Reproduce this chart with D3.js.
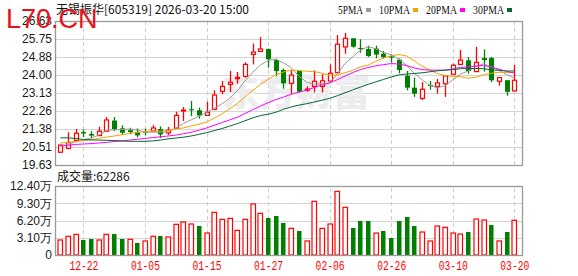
<!doctype html>
<html>
<head>
<meta charset="utf-8">
<title>无锡振华 日K</title>
<script src="https://cdn.jsdelivr.net/npm/d3@7"></script>
<style>
  body { margin: 0; background: #fff; }
  svg { display: block; font-family: "Liberation Sans", Arial, sans-serif; }
  .grid line { stroke: #d4d4d4; shape-rendering: crispEdges; }
  .vgrid line { stroke: #cfcfcf; stroke-dasharray: 4,3; shape-rendering: crispEdges; }
  .axis text { font-size: 12px; fill: #1a1a1a; }
</style>
</head>
<body>
<script>

var dates = ["12-17","12-18","12-19","12-22","12-23","12-24","12-25","12-26","12-29","12-30",
  "12-31","01-05","01-06","01-07","01-08","01-09","01-12","01-13","01-14","01-15",
  "01-16","01-19","01-20","01-21","01-22","01-23","01-26","01-27","01-28","01-29",
  "01-30","02-02","02-03","02-04","02-05","02-06","02-09","02-10","02-11","02-12",
  "02-13","02-24","02-25","02-26","02-27","03-02","03-03","03-04","03-05","03-06",
  "03-09","03-10","03-11","03-12","03-13","03-16","03-17","03-18","03-19","03-20"];

var open = [20.25,20.44,20.83,21.23,21.14,21.06,21.27,21.79,21.41,21.32,
  21.23,21.25,21.28,21.38,21.19,21.41,22.27,22.34,22.29,22.04,
  22.34,23.21,23.55,23.83,23.94,25.01,25.15,25.27,24.73,24.25,
  23.60,24.20,23.28,23.45,23.45,23.71,24.12,25.37,25.79,25.32,
  25.27,25.29,25.04,24.91,24.75,23.97,23.39,22.87,23.52,23.45,
  23.58,24.04,24.52,24.72,24.17,24.83,24.83,23.70,23.75,23.23];
var high = [20.62,21.22,21.38,21.35,21.27,21.48,21.96,21.96,21.56,21.44,
  21.41,21.40,21.57,21.51,21.48,22.22,22.45,22.74,22.42,22.71,
  23.26,23.71,24.20,24.15,24.62,25.53,25.85,25.29,24.80,24.31,
  24.25,24.25,23.45,24.23,24.04,24.52,25.95,26.05,25.79,25.74,
  25.43,25.43,25.17,25.01,24.81,24.20,23.87,23.66,23.71,23.81,
  23.97,24.56,25.22,24.88,25.37,25.25,24.88,23.88,23.75,24.49];
var low = [20.23,20.39,20.83,20.99,20.93,21.04,21.25,21.28,21.09,21.12,
  20.98,21.07,21.27,20.94,21.09,21.40,21.77,22.01,21.88,22.01,
  22.29,23.07,23.18,23.58,23.87,24.52,25.14,24.36,23.96,23.34,
  23.08,23.15,23.19,23.16,23.16,23.70,24.10,25.04,25.33,25.09,
  24.88,24.82,24.80,24.61,24.09,23.26,22.94,22.79,23.29,23.10,
  22.94,24.03,24.51,24.07,24.16,24.17,23.66,23.49,23.00,23.22];
var close = [20.60,20.72,21.17,21.16,21.06,21.27,21.82,21.38,21.20,21.23,
  21.07,21.23,21.43,21.12,21.32,22.04,22.30,22.31,22.04,22.19,
  23.03,23.45,23.65,23.89,24.52,25.12,25.27,24.77,24.20,23.60,
  24.00,23.19,23.32,23.70,23.72,24.09,25.50,25.79,25.38,25.29,
  24.93,25.00,24.88,24.85,24.25,23.39,23.10,23.31,23.47,23.62,
  23.96,24.48,24.73,24.20,24.62,24.73,23.75,23.88,23.19,23.75];

// 成交量，单位：万手
var volume = [2.70,3.36,3.71,2.70,2.88,2.70,3.71,3.77,2.88,2.82,
  2.16,2.52,3.36,3.42,3.24,5.51,5.93,5.57,5.21,3.95,
  7.67,6.41,6.59,4.43,6.41,9.17,7.49,6.65,7.01,5.75,
  4.79,4.31,2.52,9.65,4.79,5.57,11.44,8.57,4.85,6.11,
  6.11,3.95,4.31,3.06,6.11,6.83,5.21,4.13,2.52,5.21,
  4.97,3.95,3.77,4.13,6.47,6.29,5.39,2.52,4.13,6.2286];

var ma5 = [20.55,20.63,20.76,20.86,20.94,21.08,21.30,21.34,21.35,21.38,
  21.34,21.22,21.23,21.22,21.23,21.43,21.65,21.82,22.00,22.18,
  22.38,22.60,22.87,23.24,23.71,24.13,24.49,24.71,24.78,24.59,
  24.37,23.95,23.66,23.56,23.58,23.60,24.06,24.56,24.89,25.21,
  25.38,25.28,25.10,24.99,24.78,24.47,24.09,23.78,23.50,23.38,
  23.49,23.77,24.05,24.20,24.40,24.55,24.41,24.24,24.03,23.86];
var ma10 = [20.70,20.73,20.77,20.82,20.86,20.92,20.99,21.04,21.10,21.16,
  21.21,21.26,21.29,21.28,21.31,21.38,21.43,21.53,21.61,21.71,
  21.90,22.12,22.35,22.62,22.94,23.25,23.55,23.79,24.01,24.15,
  24.25,24.22,24.19,24.17,24.09,23.98,24.01,24.11,24.23,24.40,
  24.49,24.67,24.83,24.94,25.00,24.93,24.69,24.44,24.25,24.08,
  23.98,23.93,23.92,23.85,23.89,24.02,24.09,24.14,24.12,24.13];
var ma20 = [20.55,20.59,20.63,20.65,20.67,20.70,20.73,20.77,20.80,20.84,
  20.88,20.92,20.96,21.00,21.04,21.08,21.15,21.22,21.32,21.43,
  21.56,21.69,21.82,21.95,22.13,22.32,22.49,22.66,22.81,22.93,
  23.07,23.17,23.27,23.40,23.52,23.62,23.78,23.95,24.12,24.27,
  24.37,24.45,24.51,24.56,24.54,24.46,24.35,24.27,24.24,24.24,
  24.24,24.30,24.37,24.40,24.44,24.47,24.39,24.29,24.18,24.10];
var ma30 = [20.95,20.95,20.92,20.87,20.85,20.84,20.83,20.82,20.80,20.78,
  20.78,20.78,20.80,20.84,20.90,20.94,20.98,21.04,21.12,21.20,
  21.30,21.40,21.52,21.64,21.78,21.92,22.03,22.10,22.19,22.34,
  22.45,22.54,22.61,22.69,22.78,22.87,23.00,23.14,23.28,23.42,
  23.55,23.67,23.79,23.91,24.01,24.05,24.08,24.11,24.16,24.21,
  24.24,24.27,24.31,24.32,24.32,24.31,24.26,24.23,24.20,24.20];

var priceTicks = ["26.63","25.75","24.88","24.00","23.13","22.26","21.38","20.51","19.63"];
var volTickValues = [12.4, 9.3, 6.2, 3.1, 0];
var volTicks = ["12.40万","9.30万","6.20万","3.10万","0"];
var dateTicks = ["12-22","01-05","01-15","01-27","02-06","02-26","03-10","03-20"];
var maNames = ["5PMA","10PMA","20PMA","30PMA"];
var maColors = ["#9a9a9a","#f5a300","#ff00ff","#006a2e"];

var W = 578, H = 276;
var L = 55, R = 522, T = 21, B = 165, VT = 186, VB = 255;
var up = "#ff0000", down = "#007f00";

var svg = d3.select('body').append('svg').attr('width', W).attr('height', H);

var x = d3.scalePoint().domain(dates).range([60.3, 514.3]);
var y = d3.scaleLinear().domain([19.63, 26.63]).range([B, T]);
var yv = d3.scaleLinear().domain([0, 12.4]).range([VB, VT]);

// grids
svg.append('g').attr('class', 'grid').attr('transform', 'translate(' + L + ',0)')
  .call(d3.axisLeft(y).tickValues(priceTicks.map(Number)).tickSize(-(R - L)).tickFormat(''))
  .call(function (g) { g.select('.domain').remove(); });
svg.append('g').attr('class', 'grid').attr('transform', 'translate(' + L + ',0)')
  .call(d3.axisLeft(yv).tickValues(volTickValues).tickSize(-(R - L)).tickFormat(''))
  .call(function (g) { g.select('.domain').remove(); });
[[T, B], [VT, VB]].forEach(function (p) {
  svg.append('g').attr('class', 'vgrid').attr('transform', 'translate(0,' + p[1] + ')')
    .call(d3.axisBottom(x).tickValues(dateTicks).tickSize(-(p[1] - p[0])).tickFormat(''))
    .call(function (g) { g.select('.domain').remove(); });
});

// background watermark
svg.append('text').attr('x', 222).attr('y', 106)
  .attr('font-family', '"Noto Sans CJK SC"').attr('font-weight', 900)
  .attr('font-size', 37).attr('fill', '#ececef').text('东方财富');

// candles
var candle = svg.append('g').selectAll('g').data(dates).enter().append('g');
candle.append('line')
  .attr('x1', function (d) { return Math.round(x(d)) + 0.5; })
  .attr('x2', function (d) { return Math.round(x(d)) + 0.5; })
  .attr('y1', function (d, i) { return y(high[i]); })
  .attr('y2', function (d, i) { return y(low[i]); })
  .attr('stroke', function (d, i) { return close[i] >= open[i] ? up : down; })
  .attr('stroke-width', 1.3);
candle.append('rect')
  .attr('x', function (d, i) { return Math.round(x(d)) - (close[i] >= open[i] ? 1.5 : 2); })
  .attr('width', function (d, i) { return close[i] >= open[i] ? 4 : 5; })
  .attr('y', function (d, i) { return y(Math.max(open[i], close[i])); })
  .attr('height', function (d, i) { return Math.max(1, Math.abs(y(open[i]) - y(close[i]))); })
  .attr('fill', function (d, i) { return close[i] >= open[i] ? '#fff' : down; })
  .attr('stroke', function (d, i) { return close[i] >= open[i] ? up : 'none'; })
  .attr('stroke-width', 1.2);

// moving averages
[ma5, ma10, ma20, ma30].forEach(function (arr, k) {
  svg.append('path').datum(arr)
    .attr('fill', 'none').attr('stroke', maColors[k]).attr('stroke-width', 1)
    .attr('d', d3.line().x(function (d, i) { return x(dates[i]); }).y(function (d) { return y(d); }));
});

// volume bars, coloured by close vs previous close
svg.append('g').selectAll('rect').data(volume).enter().append('rect')
  .attr('x', function (d, i) { return Math.round(x(dates[i])) - 2; })
  .attr('width', 4.5)
  .attr('y', function (d) { return yv(d); })
  .attr('height', function (d) { return VB - yv(d); })
  .attr('fill', function (d, i) { return i === 0 || close[i] >= close[i - 1] ? '#fff' : down; })
  .attr('stroke', function (d, i) { return i === 0 || close[i] >= close[i - 1] ? up : 'none'; })
  .attr('stroke-width', 1.2);

// frames
[[T, B], [VT, VB]].forEach(function (p) {
  svg.append('rect').attr('x', L + 0.5).attr('y', p[0] + 0.5)
    .attr('width', R - L).attr('height', p[1] - p[0])
    .attr('fill', 'none').attr('stroke', '#999').attr('stroke-width', 1.3);
});

// axes labels
svg.append('g').attr('class', 'axis').attr('transform', 'translate(' + L + ',0)')
  .call(d3.axisLeft(y).tickValues(priceTicks.map(Number)).tickSize(0).tickPadding(3)
    .tickFormat(function (d, i) { return priceTicks[i]; }))
  .call(function (g) { g.select('.domain').remove(); });
svg.append('g').attr('class', 'axis').attr('transform', 'translate(' + L + ',0)')
  .call(d3.axisLeft(yv).tickValues(volTickValues).tickSize(0).tickPadding(3)
    .tickFormat(function (d, i) { return volTicks[i]; }))
  .call(function (g) { g.select('.domain').remove(); });
svg.append('g').attr('class', 'axis').attr('transform', 'translate(0,' + VB + ')')
  .call(d3.axisBottom(x).tickValues(dateTicks).tickSize(0).tickPadding(6.5))
  .call(function (g) {
    g.select('.domain').remove();
    g.selectAll('text').attr('fill', up).style('fill', up)
      .attr('font-family', '"Liberation Mono", monospace')
      .attr('textLength', 29).attr('lengthAdjust', 'spacingAndGlyphs');
  });

// title and labels
svg.append('text').attr('x', 56).attr('y', 14).attr('font-size', 12)
  .attr('font-family', '"Noto Sans CJK SC"').attr('fill', '#111')
  .text('无锡振华[605319] 2026-03-20 15:00');
svg.append('text').attr('x', 57).attr('y', 181).attr('font-size', 12)
  .attr('font-family', '"Noto Sans CJK SC"').attr('fill', '#111')
  .text('成交量:' + Math.round(volume[volume.length - 1] * 10000));

// legend
var lx = 338;
maNames.forEach(function (name, k) {
  var w = name.length * 6 + 1;
  svg.append('text').attr('x', lx).attr('y', 14).attr('font-size', 12)
    .attr('font-family', '"Liberation Serif", serif').attr('fill', '#111')
    .attr('textLength', w).attr('lengthAdjust', 'spacingAndGlyphs').text(name);
  svg.append('rect').attr('x', lx + w + 3).attr('y', 8).attr('width', 5).attr('height', 4)
    .attr('fill', maColors[k]);
  lx += w + 3 + 5 + 8;
});

// site mark (overlaps the top-left corner, as in the source image)
svg.append('text').attr('x', 6).attr('y', 28).attr('font-size', 27)
  .attr('fill', '#e8101a').text('L70.CN');

</script>
</body>
</html>
